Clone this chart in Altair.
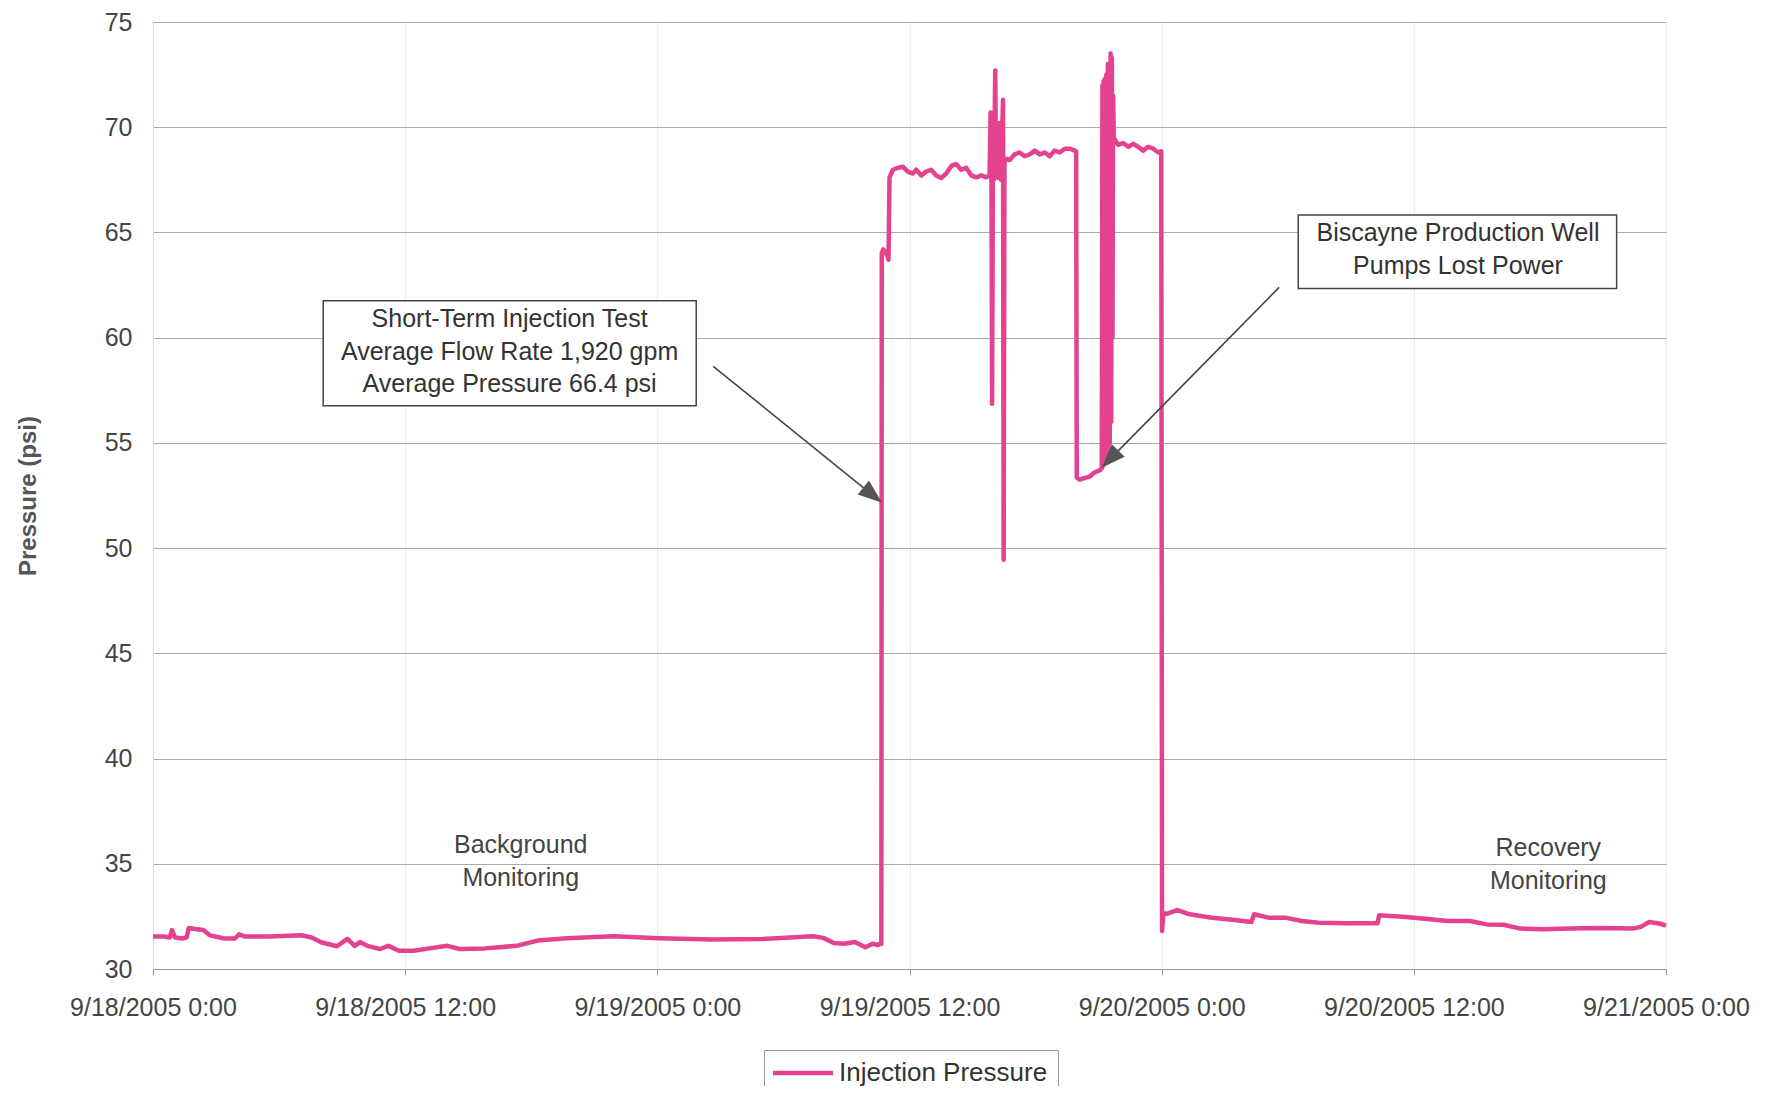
import altair as alt
import pandas as pd

# ---------------- data ----------------
hours = [0.0, 0.5, 0.8, 0.9, 1.05, 1.4, 1.6, 1.7, 2.0, 2.4, 2.7, 3.4, 3.9, 4.1, 4.35, 5.5, 7.05,
         7.55, 8.0, 8.75, 9.25, 9.6, 9.85, 10.2, 10.8, 11.2, 11.7, 12.4, 13.15, 14.0, 14.6, 15.8,
         17.3, 18.3, 19.7, 21.9, 24.1, 26.6, 29.0, 31.4, 31.9, 32.4, 32.9, 33.4, 33.9, 34.25, 34.5,
         34.6, 34.66, 34.68, 34.75, 34.95, 35.0, 35.05,
         35.21, 35.44, 35.68, 35.92, 36.16, 36.32, 36.56, 36.79, 37.03, 37.27, 37.51, 37.75, 37.99,
         38.22, 38.46, 38.7, 38.94, 39.18, 39.42, 39.65, 39.81,
         39.86, 39.9, 39.93, 39.97, 40.02, 40.08, 40.12, 40.18, 40.22, 40.3,
         40.35, 40.45, 40.48, 40.52, 40.6,
         40.77, 41.0, 41.24, 41.48, 41.72, 41.96, 42.2, 42.44, 42.67, 42.91, 43.15, 43.39, 43.63,
         43.87, 43.93, 43.96,
         44.1, 44.35, 44.58, 44.82, 45.06, 45.15,
         45.18, 45.21, 45.24, 45.27, 45.3, 45.33, 45.37, 45.4, 45.44, 45.47,
         45.5, 45.53, 45.57, 45.6, 45.63, 45.66, 45.69, 45.72,
         45.93, 46.17, 46.41, 46.65, 46.88, 47.12, 47.36, 47.6, 47.84, 47.98,
         48.02, 48.08, 48.27, 48.75, 49.33, 50.4, 51.47, 52.27, 52.4, 53.07, 53.87, 54.67,
         55.47, 56.8, 58.27, 58.35, 59.47, 60.8, 61.6, 62.67, 63.47, 64.27, 65.07, 66.13, 67.47,
         68.8, 70.4, 70.8, 71.2, 71.73, 72.0]
pressure = [31.55, 31.55, 31.5, 31.85, 31.5, 31.45, 31.5, 31.95, 31.9, 31.85, 31.6, 31.45, 31.45,
            31.65, 31.55, 31.55, 31.6, 31.5, 31.27, 31.08, 31.43, 31.1, 31.28, 31.1, 30.95, 31.1,
            30.87, 30.87, 30.98, 31.1, 30.95, 30.98, 31.1, 31.35, 31.46, 31.56, 31.46, 31.4, 31.43,
            31.56, 31.48, 31.24, 31.2, 31.28, 31.03, 31.2, 31.14, 31.2, 31.2, 64.0, 64.2, 63.9,
            63.7, 67.62,
            67.98, 68.07, 68.13, 67.89, 67.8, 67.98, 67.71, 67.89, 67.98, 67.71, 67.59, 67.8, 68.16,
            68.25, 67.98, 68.07, 67.71, 67.62, 67.71, 67.62, 67.71,
            70.7, 67.9, 56.86, 68.5, 67.5, 72.7, 67.8, 69.8, 67.6, 70.2,
            67.5, 71.3, 49.45, 68.3, 68.5,
            68.44, 68.71, 68.8, 68.62, 68.71, 68.89, 68.71, 68.8, 68.62, 68.89, 68.8, 68.98, 68.98,
            68.89, 68.85, 53.35,
            53.25, 53.34, 53.4, 53.6, 53.7, 53.8,
            72.0, 53.9, 72.2, 54.0, 72.3, 54.1, 72.5, 54.3, 73.0, 54.5,
            72.8, 55.0, 73.5, 56.0, 73.3, 60.0, 71.5, 69.5,
            69.16, 69.25, 69.07, 69.21, 69.07, 68.89, 69.07, 68.98, 68.8, 68.85,
            31.8, 32.65, 32.63, 32.8, 32.6,
            32.44, 32.33, 32.23, 32.6, 32.44, 32.44, 32.28, 32.2, 32.17, 32.17, 32.55, 32.48,
            32.36, 32.28, 32.28, 32.12, 32.1, 31.92, 31.89, 31.92, 31.95, 31.92, 32.0, 32.23,
            32.15, 32.06]
series_name = "Injection Pressure"

x_tick_hours = [0, 12, 24, 36, 48, 60, 72]
y_ticks = [30, 35, 40, 45, 50, 55, 60, 65, 70, 75]

# annotation boxes (hours / psi)
box_x1 = [8.1, 54.5]
box_x2 = [25.85, 69.65]
box_y1 = [56.76, 62.34]
box_y2 = [61.75, 65.83]
box_text_x = [16.97, 16.97, 16.97, 62.1, 62.1]
box_text_y = [60.9, 59.33, 57.78, 64.97, 63.41]
box_text = ["Short-Term Injection Test", "Average Flow Rate 1,920 gpm", "Average Pressure 66.4 psi",
            "Biscayne Production Well", "Pumps Lost Power"]

# free labels
label_x = [17.5, 17.5, 66.4, 66.4]
label_y = [35.89, 34.33, 35.73, 34.17]
label_text = ["Background", "Monitoring", "Recovery", "Monitoring"]

# arrows (start -> end)
arrow_x1 = [26.66, 53.59]
arrow_y1 = [58.64, 62.39]
arrow_x2 = [34.58, 45.24]
arrow_y2 = [52.25, 53.92]
arrow_angle = [129, 224]

# ---------------- build ----------------
base = pd.Timestamp("2005-09-18 00:00:00")


def ts(h):
    return (base + pd.Timedelta(hours=h)).strftime("%Y-%m-%dT%H:%M:%S")


line_df = pd.DataFrame({"time": [ts(h) for h in hours], "psi": pressure,
                        "series": series_name})
box_df = pd.DataFrame({"x1": [ts(h) for h in box_x1], "x2": [ts(h) for h in box_x2],
                       "y1": box_y1, "y2": box_y2})
btext_df = pd.DataFrame({"x": [ts(h) for h in box_text_x], "y": box_text_y, "t": box_text})
label_df = pd.DataFrame({"x": [ts(h) for h in label_x], "y": label_y, "t": label_text})
arrow_df = pd.DataFrame({"x1": [ts(h) for h in arrow_x1], "y1": arrow_y1,
                         "x2": [ts(h) for h in arrow_x2], "y2": arrow_y2,
                         "ang": arrow_angle})

FONT = "Liberation Sans"
PINK = "#E4418F"

x_dt = [alt.DateTime(year=2005, month=9, date=18 + h // 24, hours=h % 24) for h in x_tick_hours]

xscale = alt.Scale(domain=[x_dt[0], x_dt[-1]], nice=False)
yscale = alt.Scale(domain=[30, 75], nice=False)

x_enc = alt.X("time:T", scale=xscale, title=None,
              axis=alt.Axis(values=x_dt, format="%-m/%-d/%Y %-H:%M", labelFont=FONT,
                            labelFontSize=25, labelColor="#444", labelPadding=20,
                            tickSize=6, tickColor="#999", domainColor="#999",
                            grid=True, gridColor="#ececec", labelAngle=0, labelLimit=0,
                            labelFlush=False, labelOverlap=False))
y_enc = alt.Y("psi:Q", scale=yscale, title="Pressure (psi)",
              axis=alt.Axis(values=y_ticks, labelFont=FONT, labelFontSize=25,
                            labelColor="#444", labelPadding=21, ticks=False,
                            domainColor="#ddd", gridColor="#aaa", gridWidth=1,
                            titleFont=FONT, titleFontSize=24, titleFontWeight="bold",
                            titleColor="#555", titlePadding=64))

line = alt.Chart(line_df).mark_line(strokeWidth=4.5, strokeJoin="round").encode(
    x=x_enc, y=y_enc,
    color=alt.Color("series:N", scale=alt.Scale(domain=[series_name], range=[PINK]),
                    legend=alt.Legend(title=None, orient="none", legendX=611, legendY=1028,
                                      symbolType="M-1.4,0L4.6,0", symbolSize=400,
                                      symbolStrokeWidth=4.5, labelOffset=39, labelFont=FONT,
                                      labelFontSize=26, labelColor="#333", labelLimit=0,
                                      strokeColor="#999", fillColor="white",
                                      padding=10))
)

boxes = alt.Chart(box_df).mark_rect(fill="white", stroke="#444", strokeWidth=1.5).encode(
    x="x1:T", x2="x2:T", y="y1:Q", y2="y2:Q")

btext = alt.Chart(btext_df).mark_text(font=FONT, fontSize=25, color="#333",
                                      baseline="middle", align="center").encode(
    x="x:T", y="y:Q", text="t:N")

labels = alt.Chart(label_df).mark_text(font=FONT, fontSize=25, color="#444",
                                       baseline="middle", align="center").encode(
    x="x:T", y="y:Q", text="t:N")

arrows = alt.Chart(arrow_df).mark_rule(color="#444", strokeWidth=1.6).encode(
    x="x1:T", y="y1:Q", x2="x2:T", y2="y2:Q")

heads = alt.Chart(arrow_df).mark_point(
    shape="M0,0L0.75,2L-0.75,2Z", filled=True, fill="#555", stroke="#555",
    size=400, opacity=1).encode(
    x="x2:T", y="y2:Q", angle=alt.Angle("ang:Q", scale=None))

chart = alt.layer(line, arrows, heads, boxes, btext, labels).properties(
    width=1513, height=947,
    autosize=alt.AutoSizeParams(type="none"),
    padding={"left": 145, "top": 14, "right": 96, "bottom": 117},
).configure_view(stroke="#ddd", strokeWidth=1).configure(background="white")

chart.save("out.html", embed_options={"renderer": "svg", "actions": False})
